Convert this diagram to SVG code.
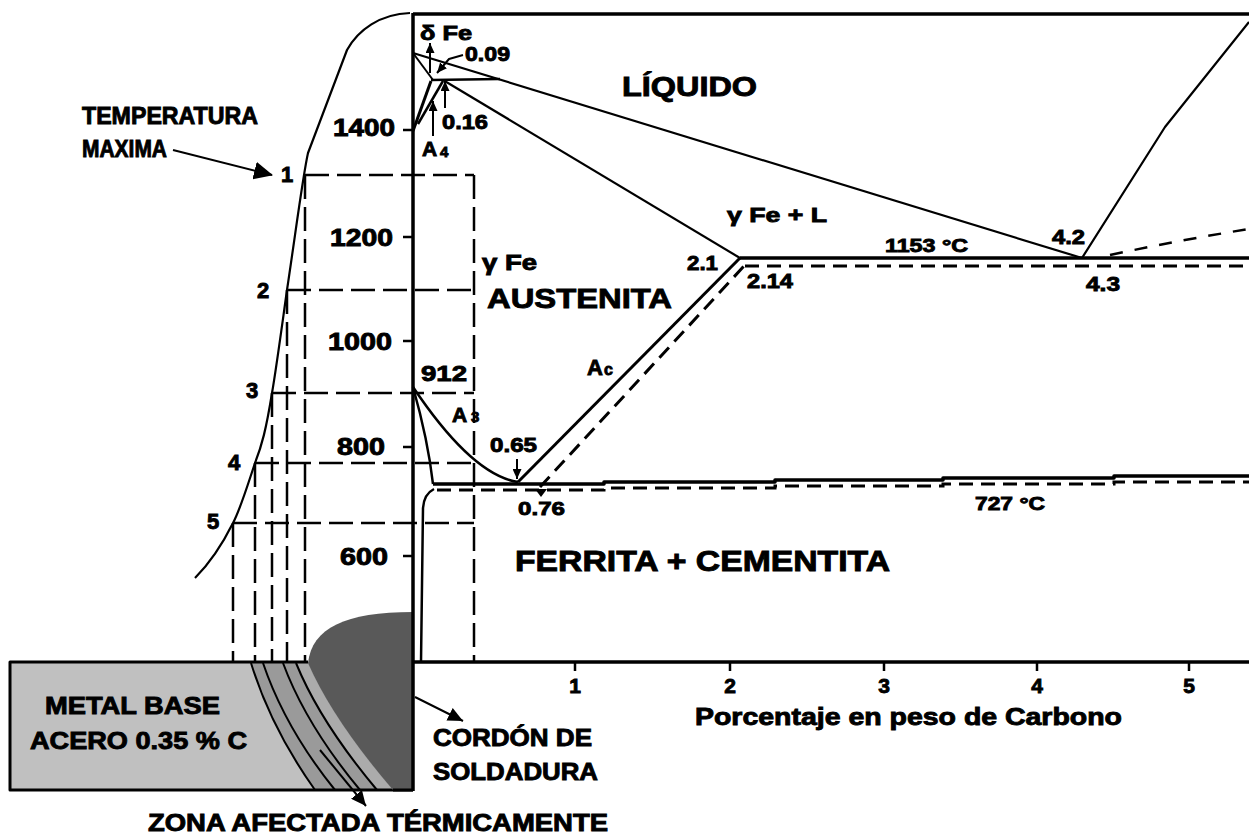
<svg xmlns="http://www.w3.org/2000/svg" width="1249" height="834" viewBox="0 0 1249 834">
  <style>
    .t { font-family: "Liberation Sans", Arial, sans-serif; font-weight: bold; fill: #000; stroke: #000; stroke-width: 0.9; }
    .ln { fill: none; stroke: #000; stroke-linecap: butt; stroke-linejoin: round; }
    .guide { fill: none; stroke: #000; stroke-width: 2.5; stroke-dasharray: 24 8; }
    .meta { fill: none; stroke: #000; stroke-width: 3; stroke-dasharray: 14 8; }
    .gr { fill: none; stroke: #000; stroke-width: 2.5; stroke-dasharray: 13 12; }
  </style>
  <defs>
    <marker id="ahBig" markerUnits="userSpaceOnUse" markerWidth="20" markerHeight="18" refX="18" refY="9" orient="auto">
      <path d="M0,0 L19,9 L0,18 z" fill="#000"/>
    </marker>
    <marker id="ahMed" markerUnits="userSpaceOnUse" markerWidth="16" markerHeight="14" refX="15" refY="7" orient="auto">
      <path d="M0,0 L15,7 L0,14 z" fill="#000"/>
    </marker>
    <marker id="ahSm" markerUnits="userSpaceOnUse" markerWidth="11" markerHeight="9" refX="10" refY="4.5" orient="auto">
      <path d="M0,0 L10,4.5 L0,9 z" fill="#000"/>
    </marker>
  </defs>

  <rect width="1249" height="834" fill="#fff"/>

  <!-- weld cross-section: base metal, heat affected bands, bead -->
  <g id="weld">
    <rect x="10" y="662" width="403" height="128" fill="#c0c0c0"/>
    <path d="M251,663 Q271,728 315,790 L393,790 Q333,720 308,663 Z" fill="#9a9a9a"/>
    <path d="M296,663 Q320,722 377,790 L393,790 Q333,720 308,663 Z" fill="#ababab"/>
    <path class="ln" stroke-width="2" d="M251,663 Q271,728 315,790"/>
    <path class="ln" stroke-width="2" d="M263,663 Q285,728 335,790"/>
    <path class="ln" stroke-width="2" d="M283,663 Q306,725 360,790"/>
    <path class="ln" stroke-width="2" d="M296,663 Q320,722 377,790"/>
    <path class="ln" stroke-width="3" d="M308,662 H10 V790 H413"/>
    <path id="bead" d="M308,663 C312,628 345,612 413,612 L413,790 L393,790 Q333,720 308,663 Z" fill="#595959"/>
    <path class="ln" stroke-width="3" d="M393,790 H413"/>
  </g>

  <!-- peak temperature guide lines -->
  <g id="guides">
    <path class="guide" d="M305,175 H474"/>
    <path class="guide" d="M287,290 H474"/>
    <path class="guide" d="M272,393 H474"/>
    <path class="guide" d="M255,463 H474"/>
    <path class="guide" d="M233,523 H474"/>
    <path class="guide" d="M474,175 V662"/>
    <path class="guide" d="M305,175 V662"/>
    <path class="guide" d="M287,290 V662"/>
    <path class="guide" d="M272,393 V662"/>
    <path class="guide" d="M255,463 V662"/>
    <path class="guide" d="M233,523 V662"/>
  </g>

  <!-- peak temperature profile -->
  <path id="profile" class="ln" stroke-width="2.2" d="M410,13 C380,14 358,30 347,50 L308,153 C303,175 296,230 287,290 C280,340 276,370 272,393 C266,430 262,445 255,463 C246,490 240,510 233,523 C222,545 210,563 195,578"/>

  <!-- axes frame -->
  <g id="axes">
    <path class="ln" stroke-width="3.5" d="M413,14 H1249"/>
    <path class="ln" stroke-width="3.5" d="M413,662 H1249"/>
    <path class="ln" stroke-width="3.5" d="M413,13 V791"/>
    <path class="ln" stroke-width="2.5" d="M403,130 H413 M403,237 H413 M403,341 H413 M403,447 H413 M403,556 H413"/>
    <path class="ln" stroke-width="2.5" d="M575,662 V671 M730,662 V671 M884,662 V671 M1037,662 V671 M1189,662 V671"/>
  </g>

  <!-- phase boundaries -->
  <g id="connectors">
    <path class="ln" stroke-width="2.2" d="M413,53 L1082,258"/>
    <path class="ln" stroke-width="2" d="M413,53 L433,80"/>
    <path class="ln" stroke-width="2.5" d="M431,80 L500,79"/>
    <path class="ln" stroke-width="2.2" d="M443,80 L740,258"/>
    <path class="ln" stroke-width="3" d="M413,131 L431,81"/>
    <path class="ln" stroke-width="2.5" d="M418,124 L443,81"/>
    <path class="ln" stroke-width="3.5" d="M740,258 H1249"/>
    <path class="meta" d="M745,266 H1249"/>
    <path class="ln" stroke-width="2.2" d="M1082,258 L1165,127 L1249,22"/>
    <path class="gr" d="M1110,255 Q1180,240 1249,229"/>
    <path class="ln" stroke-width="3" d="M518,482 L740,258"/>
    <path class="meta" stroke-width="2.5" d="M540,487 L745,265"/>
    <path class="ln" stroke-width="2.5" d="M413,387 Q472,475 518,482"/>
    <path class="ln" stroke-width="2.5" d="M413,387 Q428,440 433,484"/>
    <path class="ln" stroke-width="3.5" d="M433,484 H604 V482 H775 V480 H943 V478 H1114 V476 H1249"/>
    <path class="meta" d="M437,490 H604 V488 H775 V486 H943 V484 H1114 V482 H1249"/>
    <path class="ln" stroke-width="2.5" d="M434,489 Q424,494 423,508 L421,662"/>
    <path d="M535,489 L547,489 L541,497 z" fill="#000"/>

    <!-- pointer arrows -->
    <path class="ln" stroke-width="2" d="M173,150 L272,175" marker-end="url(#ahBig)"/>
    <path class="ln" stroke-width="2" d="M415,697 L463,721" marker-end="url(#ahMed)"/>
    <path class="ln" stroke-width="2" d="M320,750 L366,806" marker-end="url(#ahMed)"/>
    <path class="ln" stroke-width="2" d="M430,73 L430,43" marker-end="url(#ahSm)"/>
    <path class="ln" stroke-width="2" d="M463,55 L449,59 L437,73" marker-end="url(#ahSm)"/>
    <path class="ln" stroke-width="2" d="M445,108 L445,81" marker-end="url(#ahSm)"/>
    <path class="ln" stroke-width="2" d="M433,136 L433,101" marker-end="url(#ahSm)"/>
    <path class="ln" stroke-width="2" d="M517,459 L517,479" marker-end="url(#ahSm)"/>
  </g>

  <!-- labels -->
  <g id="label-temp-max">
    <text class="t" x="82" y="124" font-size="24" textLength="176" lengthAdjust="spacingAndGlyphs">TEMPERATURA</text>
    <text class="t" x="82" y="157" font-size="24" textLength="85" lengthAdjust="spacingAndGlyphs">MAXIMA</text>
  </g>
  <g id="label-points" font-size="22">
    <text class="t" x="281" y="182">1</text>
    <text class="t" x="257" y="298">2</text>
    <text class="t" x="246" y="398">3</text>
    <text class="t" x="228" y="470">4</text>
    <text class="t" x="207" y="529">5</text>
  </g>
  <g id="label-temps" font-size="24" text-anchor="end">
    <text class="t" x="395" y="136" textLength="62" lengthAdjust="spacingAndGlyphs">1400</text>
    <text class="t" x="393" y="246" textLength="63" lengthAdjust="spacingAndGlyphs">1200</text>
    <text class="t" x="392" y="350" textLength="64" lengthAdjust="spacingAndGlyphs">1000</text>
    <text class="t" x="385" y="455" textLength="48" lengthAdjust="spacingAndGlyphs">800</text>
    <text class="t" x="388" y="565" textLength="48" lengthAdjust="spacingAndGlyphs">600</text>
  </g>
  <g id="label-delta">
    <text class="t" x="420" y="40" font-size="20" textLength="52" lengthAdjust="spacingAndGlyphs">δ Fe</text>
    <text class="t" x="465" y="61" font-size="20" textLength="45" lengthAdjust="spacingAndGlyphs">0.09</text>
    <text class="t" x="442" y="129" font-size="20" textLength="46" lengthAdjust="spacingAndGlyphs">0.16</text>
    <text class="t" x="422" y="156" font-size="21">A</text>
    <text class="t" x="440" y="157" font-size="15">4</text>
  </g>
  <g id="label-liquid">
    <text class="t" x="622" y="96" font-size="28" textLength="135" lengthAdjust="spacingAndGlyphs">LÍQUIDO</text>
    <text class="t" x="727" y="222" font-size="21" textLength="100" lengthAdjust="spacingAndGlyphs">γ Fe + L</text>
    <text class="t" x="885" y="252" font-size="19" textLength="83" lengthAdjust="spacingAndGlyphs">1153 °C</text>
    <text class="t" x="687" y="270" font-size="20" textLength="31" lengthAdjust="spacingAndGlyphs">2.1</text>
    <text class="t" x="747" y="288" font-size="20" textLength="46" lengthAdjust="spacingAndGlyphs">2.14</text>
    <text class="t" x="1052" y="244" font-size="20" textLength="33" lengthAdjust="spacingAndGlyphs">4.2</text>
    <text class="t" x="1086" y="291" font-size="20" textLength="34" lengthAdjust="spacingAndGlyphs">4.3</text>
  </g>
  <g id="label-austenite">
    <text class="t" x="482" y="270" font-size="22" textLength="55" lengthAdjust="spacingAndGlyphs">γ Fe</text>
    <text class="t" x="487" y="308" font-size="28" textLength="185" lengthAdjust="spacingAndGlyphs">AUSTENITA</text>
    <text class="t" x="421" y="381" font-size="22" textLength="46" lengthAdjust="spacingAndGlyphs">912</text>
    <text class="t" x="452" y="422" font-size="21">A</text>
    <text class="t" x="471" y="422" font-size="15">3</text>
    <text class="t" x="587" y="375" font-size="22">A</text>
    <text class="t" x="604" y="375" font-size="16">c</text>
    <text class="t" x="490" y="452" font-size="20" textLength="47" lengthAdjust="spacingAndGlyphs">0.65</text>
    <text class="t" x="518" y="515" font-size="19" textLength="47" lengthAdjust="spacingAndGlyphs">0.76</text>
    <text class="t" x="975" y="510" font-size="19" textLength="70" lengthAdjust="spacingAndGlyphs">727 °C</text>
  </g>
  <g id="label-ferrite">
    <text class="t" x="515" y="571" font-size="29" textLength="375" lengthAdjust="spacingAndGlyphs">FERRITA + CEMENTITA</text>
  </g>
  <g id="label-axis-x" font-size="21" text-anchor="middle">
    <text class="t" x="575" y="693">1</text>
    <text class="t" x="730" y="693">2</text>
    <text class="t" x="884" y="693">3</text>
    <text class="t" x="1037" y="693">4</text>
    <text class="t" x="1189" y="693">5</text>
    <text class="t" x="695" y="725" font-size="24" text-anchor="start" textLength="427" lengthAdjust="spacingAndGlyphs">Porcentaje en peso de Carbono</text>
  </g>
  <g id="label-weld">
    <text class="t" x="45" y="714" font-size="24" textLength="175" lengthAdjust="spacingAndGlyphs">METAL BASE</text>
    <text class="t" x="30" y="749" font-size="24" textLength="217" lengthAdjust="spacingAndGlyphs">ACERO 0.35 % C</text>
    <text class="t" x="433" y="746" font-size="24" textLength="159" lengthAdjust="spacingAndGlyphs">CORDÓN DE</text>
    <text class="t" x="433" y="780" font-size="24" textLength="165" lengthAdjust="spacingAndGlyphs">SOLDADURA</text>
    <text class="t" x="148" y="831" font-size="24" textLength="460" lengthAdjust="spacingAndGlyphs">ZONA AFECTADA TÉRMICAMENTE</text>
  </g>
</svg>
